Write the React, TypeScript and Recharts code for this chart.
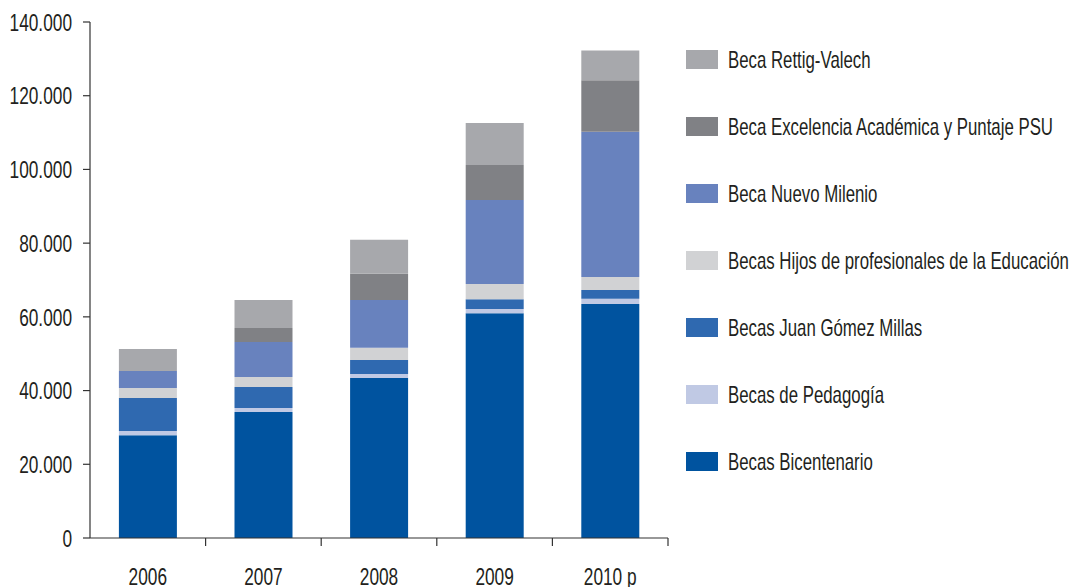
import React from "react";
import { BarChart, Bar, XAxis, YAxis } from "recharts";

const years = ["2006", "2007", "2008", "2009", "2010 p"];

// values, bottom of the stack first
const bicentenario = [27900, 34200, 43400, 61000, 63500];
const pedagogia = [1100, 1100, 1100, 1100, 1400];
const juanGomezMillas = [9000, 5700, 3800, 2700, 2400];
const hijosProfesionales = [2700, 2700, 3300, 4100, 3500];
const nuevoMilenio = [4600, 9500, 13000, 22800, 39400];
const excelencia = [0, 3800, 7100, 9500, 14000];
const rettigValech = [6000, 7600, 9200, 11400, 8100];

const yTicks = [0, 20000, 40000, 60000, 80000, 100000, 120000, 140000];

const series = [
  { key: "bicentenario", name: "Becas Bicentenario", color: "#00539f", values: bicentenario },
  { key: "pedagogia", name: "Becas de Pedagogía", color: "#c0c9e4", values: pedagogia },
  { key: "juan", name: "Becas Juan Gómez Millas", color: "#2f69b0", values: juanGomezMillas },
  { key: "hijos", name: "Becas Hijos de profesionales de la Educación", color: "#d1d2d4", values: hijosProfesionales },
  { key: "nuevo", name: "Beca Nuevo Milenio", color: "#6882be", values: nuevoMilenio },
  { key: "excelencia", name: "Beca Excelencia Académica y Puntaje PSU", color: "#808185", values: excelencia },
  { key: "rettig", name: "Beca Rettig-Valech", color: "#a7a8ac", values: rettigValech },
];

const data = years.map((year, i) => {
  const row: Record<string, string | number> = { year };
  series.forEach((s) => {
    row[s.key] = s.values[i];
  });
  return row;
});

const W = 1069;
const H = 587;
const LEFT = 90;
const PLOT_RIGHT = 668;
const BAND = (PLOT_RIGHT - LEFT) / years.length;
// no condensed font installed, so Liberation Sans is squeezed horizontally
const FONT = "'Liberation Sans', Arial, sans-serif";
const SQUEEZE = 0.72;
const AXIS = "#333333";
const TEXT = "#231f20";

const fmt = (v: number) => (v === 0 ? "0" : `${v / 1000}.000`);

function YTick(props: any) {
  const { x, y, payload } = props;
  return (
    <text
      transform={`translate(${x},${y}) scale(${SQUEEZE},1)`}
      textAnchor="end"
      dy="0.36em"
      fontFamily={FONT}
      fontSize={24}
      fill={TEXT}
    >
      {fmt(payload.value)}
    </text>
  );
}

// category label plus a tick mark on the right edge of each band
function XTick(props: any) {
  const { x, y, payload } = props;
  const edge = x + BAND / 2;
  return (
    <g>
      <line x1={edge} x2={edge} y1={y} y2={y + 8} stroke={AXIS} strokeWidth={1.2} />
      <text
        transform={`translate(${x},${y + 47}) scale(${SQUEEZE},1)`}
        textAnchor="middle"
        fontFamily={FONT}
        fontSize={24}
        fill={TEXT}
      >
        {payload.value}
      </text>
    </g>
  );
}

export default function App() {
  const legendItems = [...series].reverse();
  return (
    <div style={{ position: "absolute", left: 0, top: 0, width: W, height: H, background: "#fff" }}>
      <BarChart
        width={W}
        height={H}
        data={data}
        barCategoryGap="25%"
        margin={{ top: 22, right: W - PLOT_RIGHT, bottom: 0, left: 0 }}
      >
        <XAxis
          dataKey="year"
          height={49}
          tickLine={false}
          tickSize={0}
          tickMargin={0}
          axisLine={{ stroke: AXIS, strokeWidth: 1.2 }}
          tick={<XTick />}
          interval={0}
        />
        <YAxis
          width={LEFT}
          domain={[0, 140000]}
          ticks={yTicks}
          tickSize={7}
          tickMargin={11}
          axisLine={{ stroke: AXIS, strokeWidth: 1.2 }}
          tickLine={{ stroke: AXIS, strokeWidth: 1.2 }}
          tick={<YTick />}
          interval={0}
        />
        {series.map((s) => (
          <Bar key={s.key} dataKey={s.key} name={s.name} stackId="a" fill={s.color} isAnimationActive={false} />
        ))}
      </BarChart>
      <div style={{ position: "absolute", left: 686, top: 50 }}>
        {legendItems.map((s, i) => (
          <div
            key={s.key}
            style={{ position: "absolute", top: i * 67, left: 0, display: "flex", alignItems: "center", whiteSpace: "nowrap", height: 19 }}
          >
            <div style={{ width: 32, height: 19, background: s.color, flex: "none" }} />
            <span
              style={{
                marginLeft: 10,
                fontFamily: FONT,
                fontSize: 24,
                lineHeight: "19px",
                color: TEXT,
                display: "inline-block",
                transform: "scaleX(0.7)",
                transformOrigin: "left center",
              }}
            >
              {s.name}
            </span>
          </div>
        ))}
      </div>
    </div>
  );
}
